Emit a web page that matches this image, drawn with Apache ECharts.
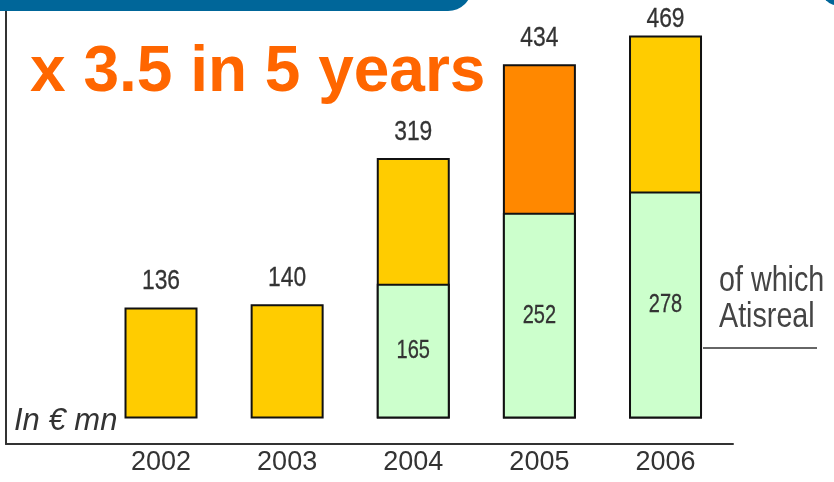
<!DOCTYPE html>
<html>
<head>
<meta charset="utf-8">
<script src="https://cdn.jsdelivr.net/npm/echarts@6/dist/echarts.min.js"></script>
<style>
  html, body { margin: 0; padding: 0; background: #ffffff; }
  #chart { width: 834px; height: 482px; }
</style>
</head>
<body>
<div id="chart"></div>
<script>
// Revenue by year, in € mn
const years = [2002, 2003, 2004, 2005, 2006];
const totals = [136, 140, 319, 434, 469];
// Atisreal contribution (none before 2004)
const atisreal = [null, null, 165, 252, 278];
const highlightYear = 2005;

const SANS = "'Liberation Sans', Arial, sans-serif";
const TEXT = '#333333';
const NARROW = 0.815; // horizontal squeeze giving a narrow face

const maxTotal = Math.max(...totals);

const totalData = years.map((y, i) => ({
  value: [y, totals[i]],
  itemStyle: y === highlightYear ? { color: '#FF8800' } : undefined
}));
const atisData = years.map((y, i) => [y, atisreal[i]]);
const labelData = years.map((y, i) => [y, totals[i], atisreal[i] == null ? 0 : atisreal[i]]);

// value labels in a narrow face: total above each bar, Atisreal share inside the green part
function renderValueLabels(params, api) {
  const x = api.value(0);
  const total = api.value(1);
  const part = api.value(2);
  const top = api.coord([x, total]);
  const children = [{
    type: 'text',
    x: top[0],
    y: top[1] - (total === maxTotal ? 16 : 26),
    scaleX: NARROW,
    style: {
      text: String(total), x: 0, y: 0,
      align: 'center', verticalAlign: 'middle',
      fill: TEXT, stroke: TEXT, lineWidth: 0.3,
      font: '28px ' + SANS
    }
  }];
  if (part > 0) {
    const partTop = api.coord([x, part]);
    const base = api.coord([x, 0]);
    children.push({
      type: 'text',
      x: partTop[0],
      y: (partTop[1] + base[1]) / 2,
      scaleX: 0.8,
      style: {
        text: String(part), x: 0, y: 0,
        align: 'center', verticalAlign: 'middle',
        fill: TEXT, stroke: TEXT, lineWidth: 0.3,
        font: '25px ' + SANS
      }
    });
  }
  return { type: 'group', children };
}

const chart = echarts.init(document.getElementById('chart'));
chart.setOption({
  animation: false,
  backgroundColor: '#ffffff',
  grid: { left: 6, right: 101, top: 8, bottom: 38 },
  xAxis: {
    type: 'value',
    min: 2000.771,
    max: 2006.535,
    axisLine: { show: true, onZero: false, lineStyle: { color: TEXT, width: 2 } },
    axisTick: { show: false },
    splitLine: { show: false },
    axisLabel: {
      customValues: years,
      formatter: v => String(v),
      color: TEXT,
      fontFamily: SANS,
      fontSize: 27,
      margin: 5
    }
  },
  yAxis: {
    type: 'value',
    min: -31.2,
    max: 502.8,
    axisLine: { show: true, onZero: false, lineStyle: { color: TEXT, width: 2 } },
    axisTick: { show: false },
    axisLabel: { show: false },
    splitLine: { show: false }
  },
  series: [
    {
      name: 'Total',
      type: 'bar',
      barWidth: 73,
      barGap: '-100%',
      data: totalData,
      itemStyle: { color: '#FFCC00', borderColor: '#111111', borderWidth: 2 }
    },
    {
      name: 'Atisreal',
      type: 'bar',
      barWidth: 73,
      barGap: '-100%',
      data: atisData,
      itemStyle: { color: '#CCFFCC', borderColor: '#111111', borderWidth: 2 }
    },
    {
      name: 'Values',
      type: 'custom',
      z: 5,
      silent: true,
      renderItem: renderValueLabels,
      data: labelData
    }
  ],
  graphic: [
    // header band, top left
    {
      type: 'rect', z: 100,
      shape: { x: -20, y: -40, width: 492, height: 51, r: [0, 0, 24, 0] },
      style: { fill: '#006699' }
    },
    // header band, top right corner
    {
      type: 'rect', z: 100,
      shape: { x: 820, y: -40, width: 40, height: 46, r: [0, 0, 0, 20] },
      style: { fill: '#006699' }
    },
    {
      type: 'text', z: 100, left: 30, top: 41,
      style: {
        text: 'x 3.5 in 5 years',
        fill: '#FF6600',
        font: 'bold 64px ' + SANS
      }
    },
    {
      type: 'text', z: 100, x: 14, y: 421,
      style: {
        text: 'In € mn',
        fill: TEXT,
        font: 'italic 31px ' + SANS,
        verticalAlign: 'middle'
      }
    },
    // narrow captions beside the 2006 bar
    {
      type: 'text', z: 100, x: 719, y: 281, scaleX: 0.82,
      style: {
        text: 'of which',
        fill: '#444444',
        font: '35px ' + SANS,
        verticalAlign: 'middle'
      }
    },
    {
      type: 'text', z: 100, x: 719, y: 317, scaleX: 0.82,
      style: {
        text: 'Atisreal',
        fill: '#444444',
        font: '35px ' + SANS,
        verticalAlign: 'middle'
      }
    },
    {
      type: 'line', z: 100,
      shape: { x1: 703, y1: 348, x2: 817, y2: 348 },
      style: { stroke: TEXT, lineWidth: 1.5 }
    }
  ]
});
</script>
</body>
</html>
